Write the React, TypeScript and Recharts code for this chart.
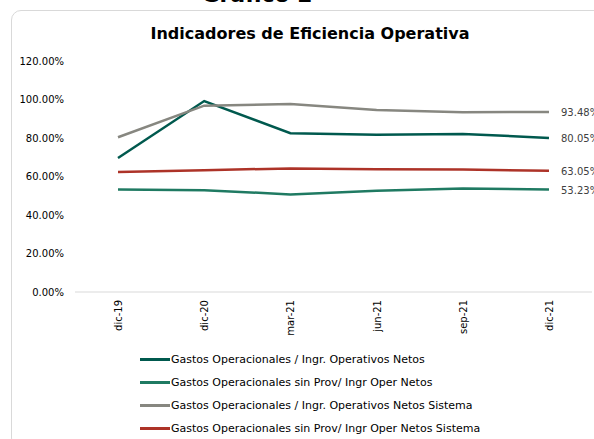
import { LabelList, Line, LineChart, XAxis, YAxis } from "recharts";

const periods = ["dic-19", "dic-20", "mar-21", "jun-21", "sep-21", "dic-21"];
const gastosOperNetos = [69.6, 99.2, 82.5, 81.7, 82.1, 80.05];
const gastosSinProv = [53.3, 52.9, 50.7, 52.6, 53.8, 53.23];
const gastosOperNetosSistema = [80.4, 96.8, 97.6, 94.6, 93.4, 93.48];
const gastosSinProvSistema = [62.4, 63.3, 64.2, 63.8, 63.6, 63.05];
const yTicks = [0, 20, 40, 60, 80, 100, 120];

const series = [
  { key: "a", name: "Gastos Operacionales / Ingr. Operativos Netos", color: "#00594e", values: gastosOperNetos },
  { key: "b", name: "Gastos Operacionales sin Prov/ Ingr Oper Netos", color: "#1f7a62", values: gastosSinProv },
  { key: "c", name: "Gastos Operacionales / Ingr. Operativos Netos Sistema", color: "#878780", values: gastosOperNetosSistema },
  { key: "d", name: "Gastos Operacionales sin Prov/ Ingr Oper Netos Sistema", color: "#ad3328", values: gastosSinProvSistema }
];

const data = periods.map((p, i) => ({
  period: p,
  a: gastosOperNetos[i],
  b: gastosSinProv[i],
  c: gastosOperNetosSistema[i],
  d: gastosSinProvSistema[i]
}));

const font = "'DejaVu Sans', sans-serif";

function LastLabel(props: any) {
  const { x, y, value, index } = props;
  if (index !== periods.length - 1) return null;
  return (
    <text x={x + 12} y={y} dy={4} fill="#404040" fontSize={10} fontFamily={font}>
      {Number(value).toFixed(2)}%
    </text>
  );
}

function XTick(props: any) {
  const { x, y, payload } = props;
  return (
    <text
      x={x}
      y={y}
      transform={`rotate(-90 ${x} ${y})`}
      textAnchor="end"
      dy={4}
      fill="#000"
      fontSize={10}
      fontFamily={font}
    >
      {payload.value}
    </text>
  );
}

export default function App() {
  return (
    <div style={{ position: "fixed", left: 0, top: 0, width: 594, height: 439, overflow: "hidden", background: "#fff" }}>
      <div
        style={{
          position: "absolute",
          left: 0,
          width: 514,
          top: -16,
          textAlign: "center",
          fontFamily: font,
          fontWeight: "bold",
          fontSize: 22,
          lineHeight: "22px",
          color: "#000"
        }}
      >
        Gráfico 2
      </div>
      <div
        style={{
          position: "absolute",
          left: 11,
          top: 10,
          width: 640,
          height: 438,
          border: "1px solid #d9d9d9",
          borderRadius: 10,
          boxSizing: "border-box"
        }}
      >
        <div
          style={{
            position: "absolute",
            left: 0,
            width: 596,
            top: 13,
            textAlign: "center",
            fontFamily: font,
            fontWeight: "bold",
            fontSize: 16,
            color: "#000"
          }}
        >
          Indicadores de Eficiencia Operativa
        </div>
        <LineChart width={598} height={436} data={data} margin={{ top: 50, right: 18, bottom: 104, left: 0 }}>
          <XAxis
            dataKey="period"
            tick={<XTick />}
            tickLine={false}
            axisLine={{ stroke: "#d9d9d9" }}
            height={51}
            interval={0}
            tickSize={0}
            tickMargin={8}
            padding={{ left: 43, right: 43 }}
          />
          <YAxis
            domain={[0, 120]}
            ticks={yTicks}
            tickFormatter={(v: number) => `${v.toFixed(2)}%`}
            tick={{ fill: "#000", fontSize: 10, fontFamily: font }}
            tickLine={false}
            axisLine={false}
            width={63}
            tickSize={0}
            tickMargin={11}
          />
          {series.map((s) => (
            <Line
              key={s.key}
              type="linear"
              dataKey={s.key}
              name={s.name}
              stroke={s.color}
              strokeWidth={2.5}
              dot={false}
              activeDot={false}
              isAnimationActive={false}
            >
              <LabelList dataKey={s.key} content={<LastLabel />} />
            </Line>
          ))}
        </LineChart>
        <div style={{ position: "absolute", left: 128, top: 337, fontFamily: font, fontSize: 11, color: "#000" }}>
          {series.map((s) => (
            <div key={s.key} style={{ display: "flex", alignItems: "center", height: 23, whiteSpace: "nowrap" }}>
              <span style={{ display: "inline-block", width: 30, height: 3, background: s.color, marginRight: 1 }} />
              <span>{s.name}</span>
            </div>
          ))}
        </div>
      </div>
    </div>
  );
}
